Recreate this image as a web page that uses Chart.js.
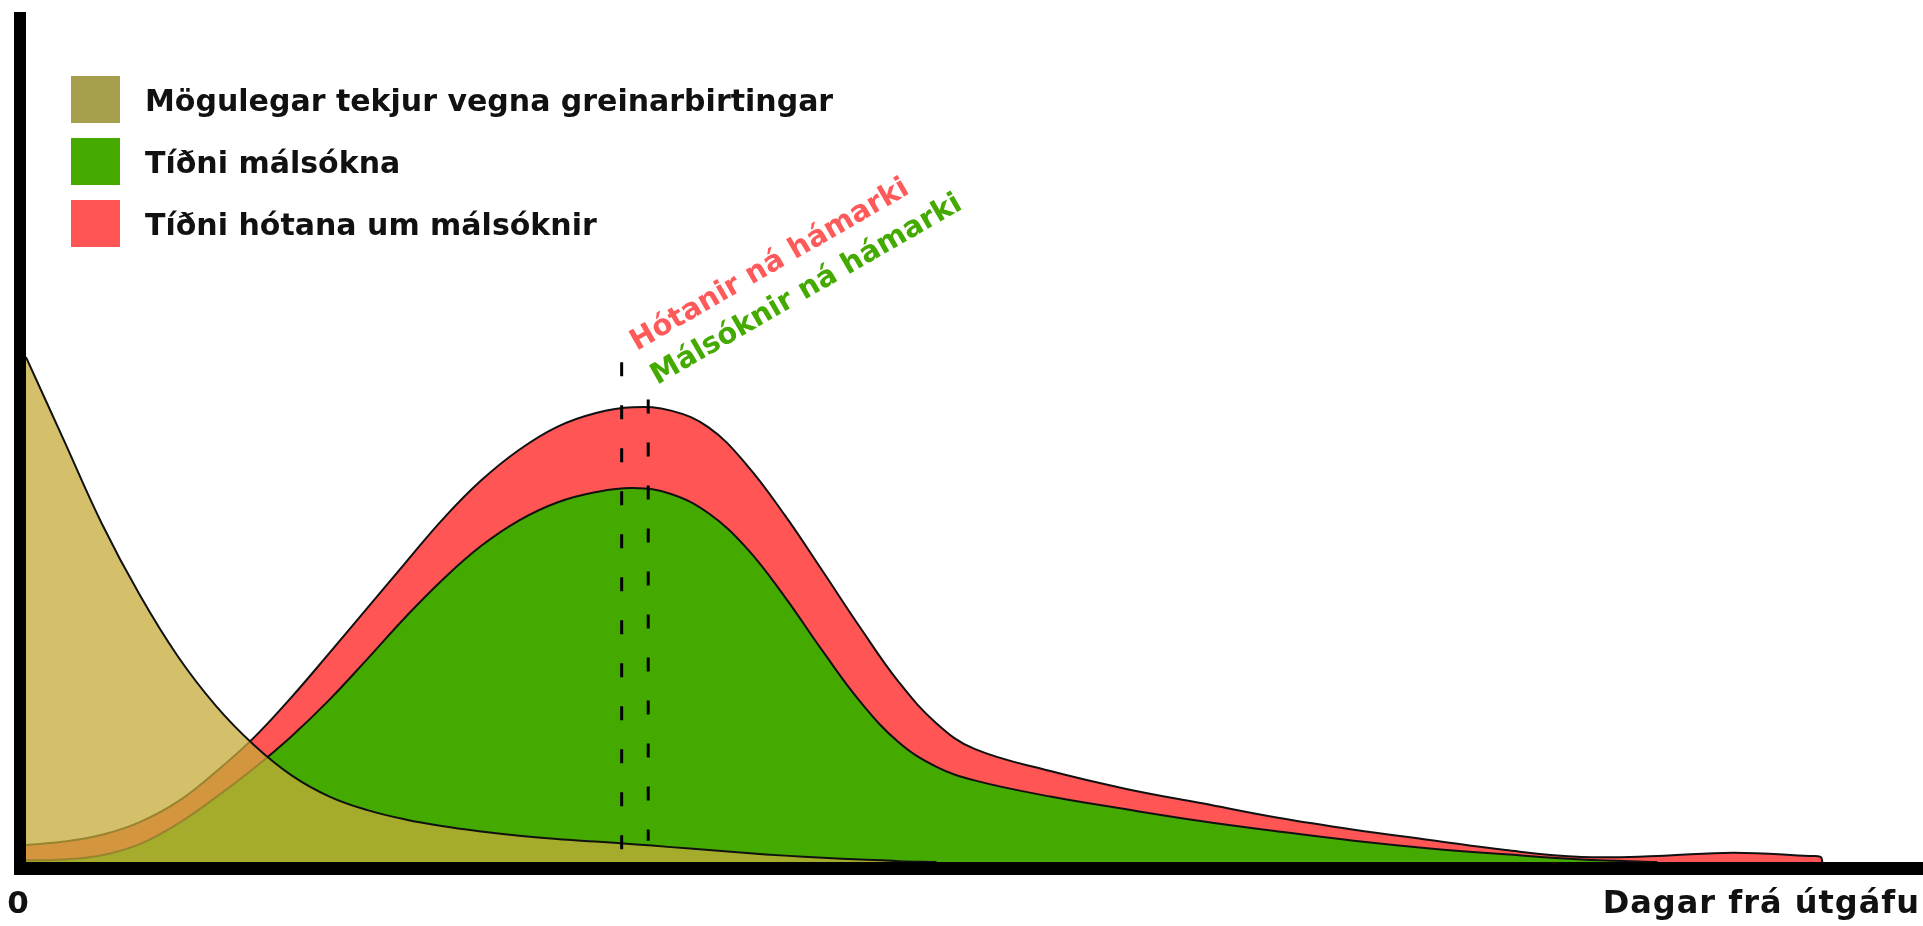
<!DOCTYPE html>
<html>
<head>
<meta charset="utf-8">
<script src="https://cdn.jsdelivr.net/npm/chart.js@4"></script>
<style>
  html, body { margin: 0; padding: 0; background: #fff; }
  canvas { display: block; }
</style>
</head>
<body>
<canvas id="chart" width="1923" height="926"></canvas>
<script>
// x positions (days since publication, arbitrary 0-100 scale)
const days = [0, 2, 4, 6, 8, 10, 12, 14, 16, 18, 20, 22, 24, 26, 28, 30, 32, 34, 36, 38,
              40, 42, 44, 46, 48, 50, 54, 58, 62, 66, 70, 74, 78, 82, 86, 90, 94, 94.6, 94.7];

// Mögulegar tekjur vegna greinarbirtingar
const revenue = [59.4, 49.6, 39.8, 31.4, 24.2, 18.4, 13.8, 10.2, 7.7, 6.1, 5.0, 4.2, 3.6, 3.1, 2.7, 2.4, 2.1, 1.75, 1.4, 1.05,
                 0.75, 0.5, 0.3, 0.1, 0, null, null, null, null, null, null, null, null, null, null, null, null, null, null];
// Tíðni málsókna
const lawsuits = [0.2, 0.3, 0.8, 2.1, 4.5, 7.6, 11.0, 14.8, 19.1, 23.9, 28.8, 33.3, 37.2, 40.2, 42.3, 43.5, 44.0, 43.3, 41.0, 36.9,
                  31.2, 24.8, 18.8, 14.1, 11.2, 9.6, 7.7, 6.2, 4.8, 3.6, 2.5, 1.6, 0.9, 0.3, 0, null, null, null, null];
// Tíðni hótana um málsóknir
const threats = [2.0, 2.4, 3.2, 4.7, 7.1, 10.6, 14.6, 19.4, 24.6, 29.9, 35.2, 40.4, 44.9, 48.5, 51.2, 52.8, 53.5, 53.1, 51.1, 46.7,
                 40.8, 34.2, 27.5, 21.2, 16.3, 13.3, 10.7, 8.6, 6.9, 5.2, 3.8, 2.6, 1.4, 0.6, 0.7, 1.1, 0.7, 0.6, 0];

// peak markers: [day, top, bottom]
const threatPeak = [31.4, 58.8, 0];
const lawsuitPeak = [32.8, 54.4, 2.5];

const seriesLabels = ['Mögulegar tekjur vegna greinarbirtingar', 'Tíðni málsókna', 'Tíðni hótana um málsóknir'];
const swatchColors = ['#a6a04e', '#44aa00', '#ff5555'];
const xTitle = 'Dagar frá útgáfu';
const peakLabels = ['Hótanir ná hámarki', 'Málsóknir ná hámarki'];

function points(values) {
    return days.map((d, i) => ({ x: d, y: values[i] })).filter(p => p.y !== null);
}

const FONT = '"DejaVu Sans", sans-serif';

const overlay = {
    id: 'overlay',
    afterDatasetsDraw(chart) {
        const { ctx, chartArea: a, scales: { x } } = chart;
        ctx.save();

        // thick axes
        ctx.fillStyle = '#000';
        ctx.fillRect(a.left - 12, a.top, 12, a.bottom + 13 - a.top);
        ctx.fillRect(a.left - 12, a.bottom, a.right - a.left + 12, 13);

        // axis labels
        ctx.fillStyle = '#111';
        ctx.font = 'bold 31px ' + FONT;
        ctx.textAlign = 'center';
        ctx.fillText('0', x.getPixelForValue(0) - 8, 913);
        ctx.textAlign = 'right';
        ctx.font = 'bold 32px ' + FONT;
        ctx.letterSpacing = '1px';
        ctx.fillText(xTitle, a.right - 3, 913);
        ctx.letterSpacing = '0px';

        // legend
        ctx.textAlign = 'left';
        ctx.font = 'bold 30px ' + FONT;
        seriesLabels.forEach((lbl, i) => {
            const top = 76 + i * 62;
            ctx.fillStyle = swatchColors[i];
            ctx.fillRect(71, top, 49, 47);
            ctx.fillStyle = '#111';
            ctx.fillText(lbl, 145, top + 35);
        });

        // rotated peak labels
        const ang = -30 * Math.PI / 180;
        [[peakLabels[0], '#ff5a5a', threatPeak, 15, 351], [peakLabels[1], '#44aa00', lawsuitPeak, 9, 385]].forEach(([t, c, pk, dx, by]) => {
            ctx.save();
            ctx.translate(x.getPixelForValue(pk[0]) + dx, by);
            ctx.rotate(ang);
            ctx.fillStyle = c;
            ctx.font = 'bold 29px ' + FONT;
            ctx.fillText(t, 0, 0);
            ctx.restore();
        });

        ctx.restore();
    }
};

const area = (values, fillColor, label) => ({
    label: label,
    data: points(values),
    backgroundColor: fillColor,
    borderColor: '#111',
    borderWidth: 2,
    fill: 'origin',
    pointRadius: 0,
    tension: 0.4
});

const marker = pk => ({
    data: [{ x: pk[0], y: pk[1] }, { x: pk[0], y: pk[2] }],
    borderColor: '#000',
    borderWidth: 3,
    borderDash: [14, 29],
    fill: false,
    pointRadius: 0,
    order: -1
});

new Chart(document.getElementById('chart'), {
    type: 'line',
    data: {
        datasets: [
            area(revenue, 'rgba(198, 171, 56, 0.75)', seriesLabels[0]),
            area(lawsuits, '#44aa00', seriesLabels[1]),
            area(threats, '#ff5555', seriesLabels[2]),
            marker(threatPeak),
            marker(lawsuitPeak)
        ]
    },
    options: {
        responsive: false,
        animation: false,
        layout: { padding: { left: 26, right: 0, top: 12, bottom: 64 } },
        plugins: {
            legend: { display: false },
            tooltip: { enabled: false }
        },
        scales: {
            x: { type: 'linear', min: 0, max: 100, display: false },
            y: { min: 0, max: 100, display: false }
        }
    },
    plugins: [overlay]
});
</script>
</body>
</html>
